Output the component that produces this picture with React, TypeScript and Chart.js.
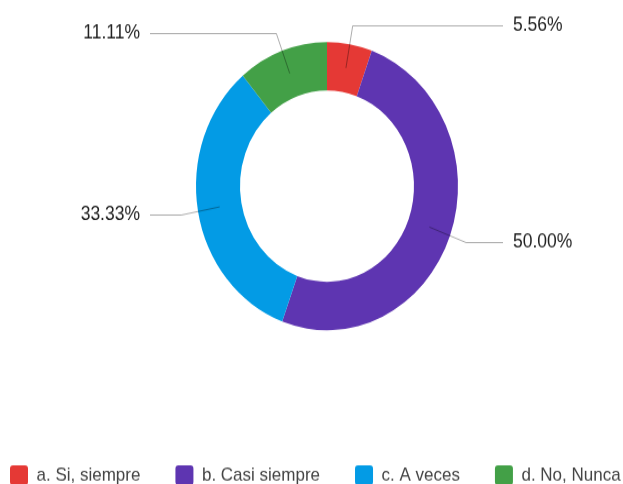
import React, { useEffect, useRef } from 'react';
import { Chart, registerables } from 'chart.js';

Chart.register(...registerables);

const categories: string[] = ['a. Si, siempre', 'b. Casi siempre', 'c. A veces', 'd. No, Nunca'];
const counts: number[] = [1, 9, 6, 2];
const colors: string[] = ['#e53935', '#5e35b1', '#039be5', '#43a047'];

const FONT = '"Liberation Sans", Arial, sans-serif';

const leaderPlugin = {
  id: 'leaderLabels',
  afterDatasetsDraw(chart: any) {
    const ctx = chart.ctx;
    const meta = chart.getDatasetMeta(0);
    const data: number[] = chart.data.datasets[0].data;
    const total = data.reduce((a, b) => a + b, 0);
    meta.data.forEach((arc: any, i: number) => {
      const p = arc.getProps(['x', 'y', 'startAngle', 'endAngle', 'innerRadius', 'outerRadius'], true);
      const a = (p.startAngle + p.endAngle) / 2;
      const rm = (p.innerRadius + p.outerRadius) / 2;
      const re = p.outerRadius + 17;
      const ax = p.x + Math.cos(a) * rm;
      const ay = p.y + Math.sin(a) * rm;
      const ex = p.x + Math.cos(a) * re;
      const ey = Math.round(p.y + Math.sin(a) * re) + 0.5;
      const right = Math.cos(a) >= 0;
      const lx = right ? p.x + 176 : p.x - 177;
      const tx = right ? p.x + 186 : p.x - 187;
      const label = ((data[i] / total) * 100).toFixed(2) + '%';
      ctx.save();
      ctx.strokeStyle = 'rgba(0,0,0,0.33)';
      ctx.lineWidth = 1;
      ctx.beginPath();
      ctx.moveTo(ax, ay);
      ctx.lineTo(ex, ey);
      ctx.lineTo(lx, ey);
      ctx.stroke();
      ctx.fillStyle = '#222222';
      ctx.font = `17.5px ${FONT}`;
      ctx.textAlign = right ? 'left' : 'right';
      ctx.textBaseline = 'middle';
      ctx.fillText(label, tx, ey);
      ctx.restore();
    });
  },
};

export default function App() {
  const ref = useRef<HTMLCanvasElement | null>(null);

  useEffect(() => {
    if (!ref.current) return;
    const chart = new Chart(ref.current, {
      type: 'doughnut',
      data: {
        labels: categories,
        datasets: [
          {
            data: counts,
            backgroundColor: colors,
            borderWidth: 0,
          },
        ],
      },
      options: {
        responsive: false,
        animation: false,
        devicePixelRatio: 1,
        radius: 131,
        cutout: '66.4%',
        layout: { padding: 0 },
        plugins: {
          tooltip: { enabled: false },
          legend: {
            position: 'bottom',
            align: 'start',
            title: {
              display: true,
              text: ' ',
              font: { size: 12 },
              padding: { top: 0, bottom: 35.3 },
            },
            labels: {
              boxWidth: 18,
              boxHeight: 18,
              padding: 35,
              useBorderRadius: true,
              borderRadius: 3,
              color: '#444444',
              font: { size: 17, family: FONT },
            },
          },
        },
      } as any,
      plugins: [leaderPlugin],
    });
    return () => chart.destroy();
  }, []);

  return (
    <div
      style={{
        position: 'fixed',
        left: 0,
        top: 0,
        width: 623,
        height: 484,
        overflow: 'hidden',
        background: '#ffffff',
      }}
    >
      <div
        style={{
          position: 'absolute',
          left: -25,
          top: 0,
          transform: 'scaleY(1.1)',
          transformOrigin: '0 0',
        }}
      >
        <canvas ref={ref} width={704} height={451} style={{ display: 'block' }} />
      </div>
    </div>
  );
}
